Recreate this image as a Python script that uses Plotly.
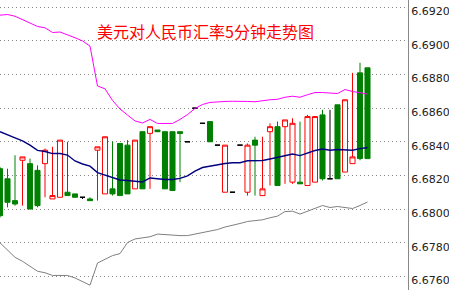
import plotly.graph_objects as go

# candle index (5-minute bars)
bars = list(range(50))

opens = [6.6824, 6.6818, 6.6805, 6.6829, 6.6827, 6.6823, 6.6827, 6.6806, 6.6807, 6.6810,
         6.6809, 6.6807, 6.6806, 6.6835, 6.6809, 6.6812, 6.6839, 6.6838, 6.6812, 6.6846,
         6.6845, 6.6847, 6.6846, 6.6846, 6.6846, 6.6840, 6.6860, 6.6851, 6.6852, 6.6838,
         6.6810, 6.6810, 6.6838, 6.6810, 6.6841, 6.6808, 6.6846, 6.6849, 6.6849, 6.6816,
         6.6816, 6.6814, 6.6816, 6.6856, 6.6818, 6.6862, 6.6822, 6.6827, 6.6881, 6.6884]
highs = [6.6825, 6.6824, 6.6832, 6.6831, 6.6830, 6.6826, 6.6836, 6.6837, 6.6841, 6.6840,
         6.6809, 6.6807, 6.6807, 6.6837, 6.6843, 6.6840, 6.6839, 6.6841, 6.6841, 6.6846,
         6.6849, 6.6847, 6.6846, 6.6846, 6.6846, 6.6840, 6.6860, 6.6851, 6.6852, 6.6838,
         6.6838, 6.6810, 6.6838, 6.6839, 6.6843, 6.6843, 6.6851, 6.6852, 6.6853, 6.6854,
         6.6852, 6.6856, 6.6855, 6.6859, 6.6859, 6.6862, 6.6865, 6.6881, 6.6887, 6.6884]
lows = [6.6795, 6.6801, 6.6802, 6.6802, 6.6800, 6.6801, 6.6807, 6.6806, 6.6807, 6.6808,
        6.6807, 6.6806, 6.6805, 6.6805, 6.6809, 6.6808, 6.6808, 6.6809, 6.6812, 6.6812,
        6.6812, 6.6846, 6.6812, 6.6811, 6.6816, 6.6840, 6.6860, 6.6851, 6.6840, 6.6838,
        6.6810, 6.6810, 6.6838, 6.6808, 6.6808, 6.6808, 6.6814, 6.6814, 6.6815, 6.6815,
        6.6815, 6.6814, 6.6816, 6.6817, 6.6818, 6.6818, 6.6822, 6.6827, 6.6829, 6.6830]
closes = [6.6796, 6.6804, 6.6803, 6.6831, 6.6800, 6.6802, 6.6835, 6.6808, 6.6841, 6.6808,
          6.6807, 6.6807, 6.6805, 6.6837, 6.6843, 6.6809, 6.6808, 6.6809, 6.6841, 6.6812,
          6.6849, 6.6846, 6.6812, 6.6811, 6.6845, 6.6840, 6.6860, 6.6851, 6.6840, 6.6838,
          6.6838, 6.6810, 6.6838, 6.6838, 6.6838, 6.6812, 6.6849, 6.6814, 6.6853, 6.6851,
          6.6815, 6.6855, 6.6855, 6.6818, 6.6818, 6.6818, 6.6865, 6.6831, 6.6830, 6.6830]

upper_band = [6.69153, 6.69157, 6.69147, 6.69128, 6.69108, 6.69086, 6.69078, 6.69050, 6.69053, 6.69037,
              6.69019, 6.69000, 6.68969, 6.68732, 6.68715, 6.68646, 6.68595, 6.68559, 6.68524, 6.68512,
              6.68533, 6.68509, 6.68509, 6.68509, 6.68533, 6.68562, 6.68598, 6.68622, 6.68634, 6.68638,
              6.68640, 6.68641, 6.68642, 6.68640, 6.68638, 6.68645, 6.68650, 6.68653, 6.68665, 6.68671,
              6.68665, 6.68680, 6.68693, 6.68693, 6.68690, 6.68687, 6.68711, 6.68699, 6.68692, 6.68684]
middle_band = [6.68460, 6.68440, 6.68423, 6.68405, 6.68380, 6.68349, 6.68342, 6.68330, 6.68330, 6.68321,
               6.68286, 6.68268, 6.68255, 6.68217, 6.68202, 6.68191, 6.68173, 6.68170, 6.68164, 6.68161,
               6.68185, 6.68179, 6.68176, 6.68176, 6.68182, 6.68197, 6.68226, 6.68247, 6.68256, 6.68264,
               6.68271, 6.68275, 6.68275, 6.68287, 6.68289, 6.68289, 6.68298, 6.68307, 6.68318, 6.68327,
               6.68318, 6.68333, 6.68348, 6.68357, 6.68350, 6.68354, 6.68354, 6.68350, 6.68359, 6.68366]
lower_band = [6.67799, 6.67753, 6.67713, 6.67689, 6.67660, 6.67630, 6.67621, 6.67605, 6.67605, 6.67605,
              6.67590, 6.67566, 6.67547, 6.67679, 6.67703, 6.67723, 6.67735, 6.67801, 6.67822, 6.67829,
              6.67835, 6.67851, 6.67847, 6.67842, 6.67842, 6.67842, 6.67851, 6.67860, 6.67866, 6.67878,
              6.67893, 6.67902, 6.67914, 6.67926, 6.67932, 6.67936, 6.67948, 6.67958, 6.67985, 6.67987,
              6.67970, 6.67988, 6.68007, 6.68021, 6.68009, 6.68015, 6.68009, 6.68003, 6.68021, 6.68042]

tick_values = [6.6760, 6.6780, 6.6800, 6.6820, 6.6840, 6.6860, 6.6880, 6.6900, 6.6920]
tick_labels = ["6.6760", "6.6780", "6.6800", "6.6820", "6.6840", "6.6860", "6.6880", "6.6900", "6.6920"]
title_text = "美元对人民币汇率5分钟走势图"

W, H = 449, 290
plot_right = 408

is_doji = [o == c for o, c in zip(opens, closes)]
main_idx = [i for i in bars if not is_doji[i]]
doji_idx = [i for i in bars if is_doji[i]]

def pick(arr, idx):
    return [arr[i] for i in idx]

fig = go.Figure()
fig.add_trace(go.Candlestick(
    x=pick(bars, main_idx), open=pick(opens, main_idx), high=pick(highs, main_idx),
    low=pick(lows, main_idx), close=pick(closes, main_idx),
    increasing=dict(line=dict(color="#ff0000", width=1), fillcolor="#ffffff"),
    decreasing=dict(line=dict(color="#008000", width=1), fillcolor="#008000"),
    hoverinfo="skip", showlegend=False,
))
fig.add_trace(go.Candlestick(
    x=pick(bars, doji_idx), open=pick(opens, doji_idx), high=pick(highs, doji_idx),
    low=pick(lows, doji_idx), close=pick(closes, doji_idx),
    increasing=dict(line=dict(color="#000000", width=1), fillcolor="#000000"),
    decreasing=dict(line=dict(color="#000000", width=1), fillcolor="#000000"),
    hoverinfo="skip", showlegend=False,
))
fig.add_trace(go.Scatter(x=bars, y=upper_band, mode="lines",
                         line=dict(color="#ff00ff", width=1), hoverinfo="skip", showlegend=False))
fig.add_trace(go.Scatter(x=bars, y=middle_band, mode="lines",
                         line=dict(color="#000080", width=1.4), hoverinfo="skip", showlegend=False))
fig.add_trace(go.Scatter(x=bars, y=lower_band, mode="lines",
                         line=dict(color="#808080", width=1), hoverinfo="skip", showlegend=False))

fig.update_layout(
    width=W, height=H,
    margin=dict(l=0, r=0, t=0, b=0),
    paper_bgcolor="#ffffff", plot_bgcolor="#ffffff",
    boxgap=0.18, boxgroupgap=0.18,
    xaxis=dict(domain=[0, plot_right / W], range=[0, 54.4], visible=False,
               rangeslider=dict(visible=False), fixedrange=True),
    yaxis=dict(side="right", range=[6.675184, 6.692434],
               tickvals=tick_values, ticktext=tick_labels,
               ticklabelposition="outside", ticklabelshift=4, ticklabelstandoff=0,
               tickfont=dict(family="DejaVu Sans", size=11, color="#222222"),
               showgrid=True, gridcolor="#8a8a8a", gridwidth=1, griddash="1px,3px",
               showline=True, linecolor="#888888", linewidth=1,
               zeroline=False, ticks="", fixedrange=True),
    annotations=[dict(text=title_text, x=205.5 / W, y=1 - 31 / H, xref="paper", yref="paper",
                      xanchor="center", yanchor="middle", showarrow=False,
                      font=dict(family="Noto Sans CJK SC", size=16, color="#ff0000"))],
)

fig.write_html("out.html")
